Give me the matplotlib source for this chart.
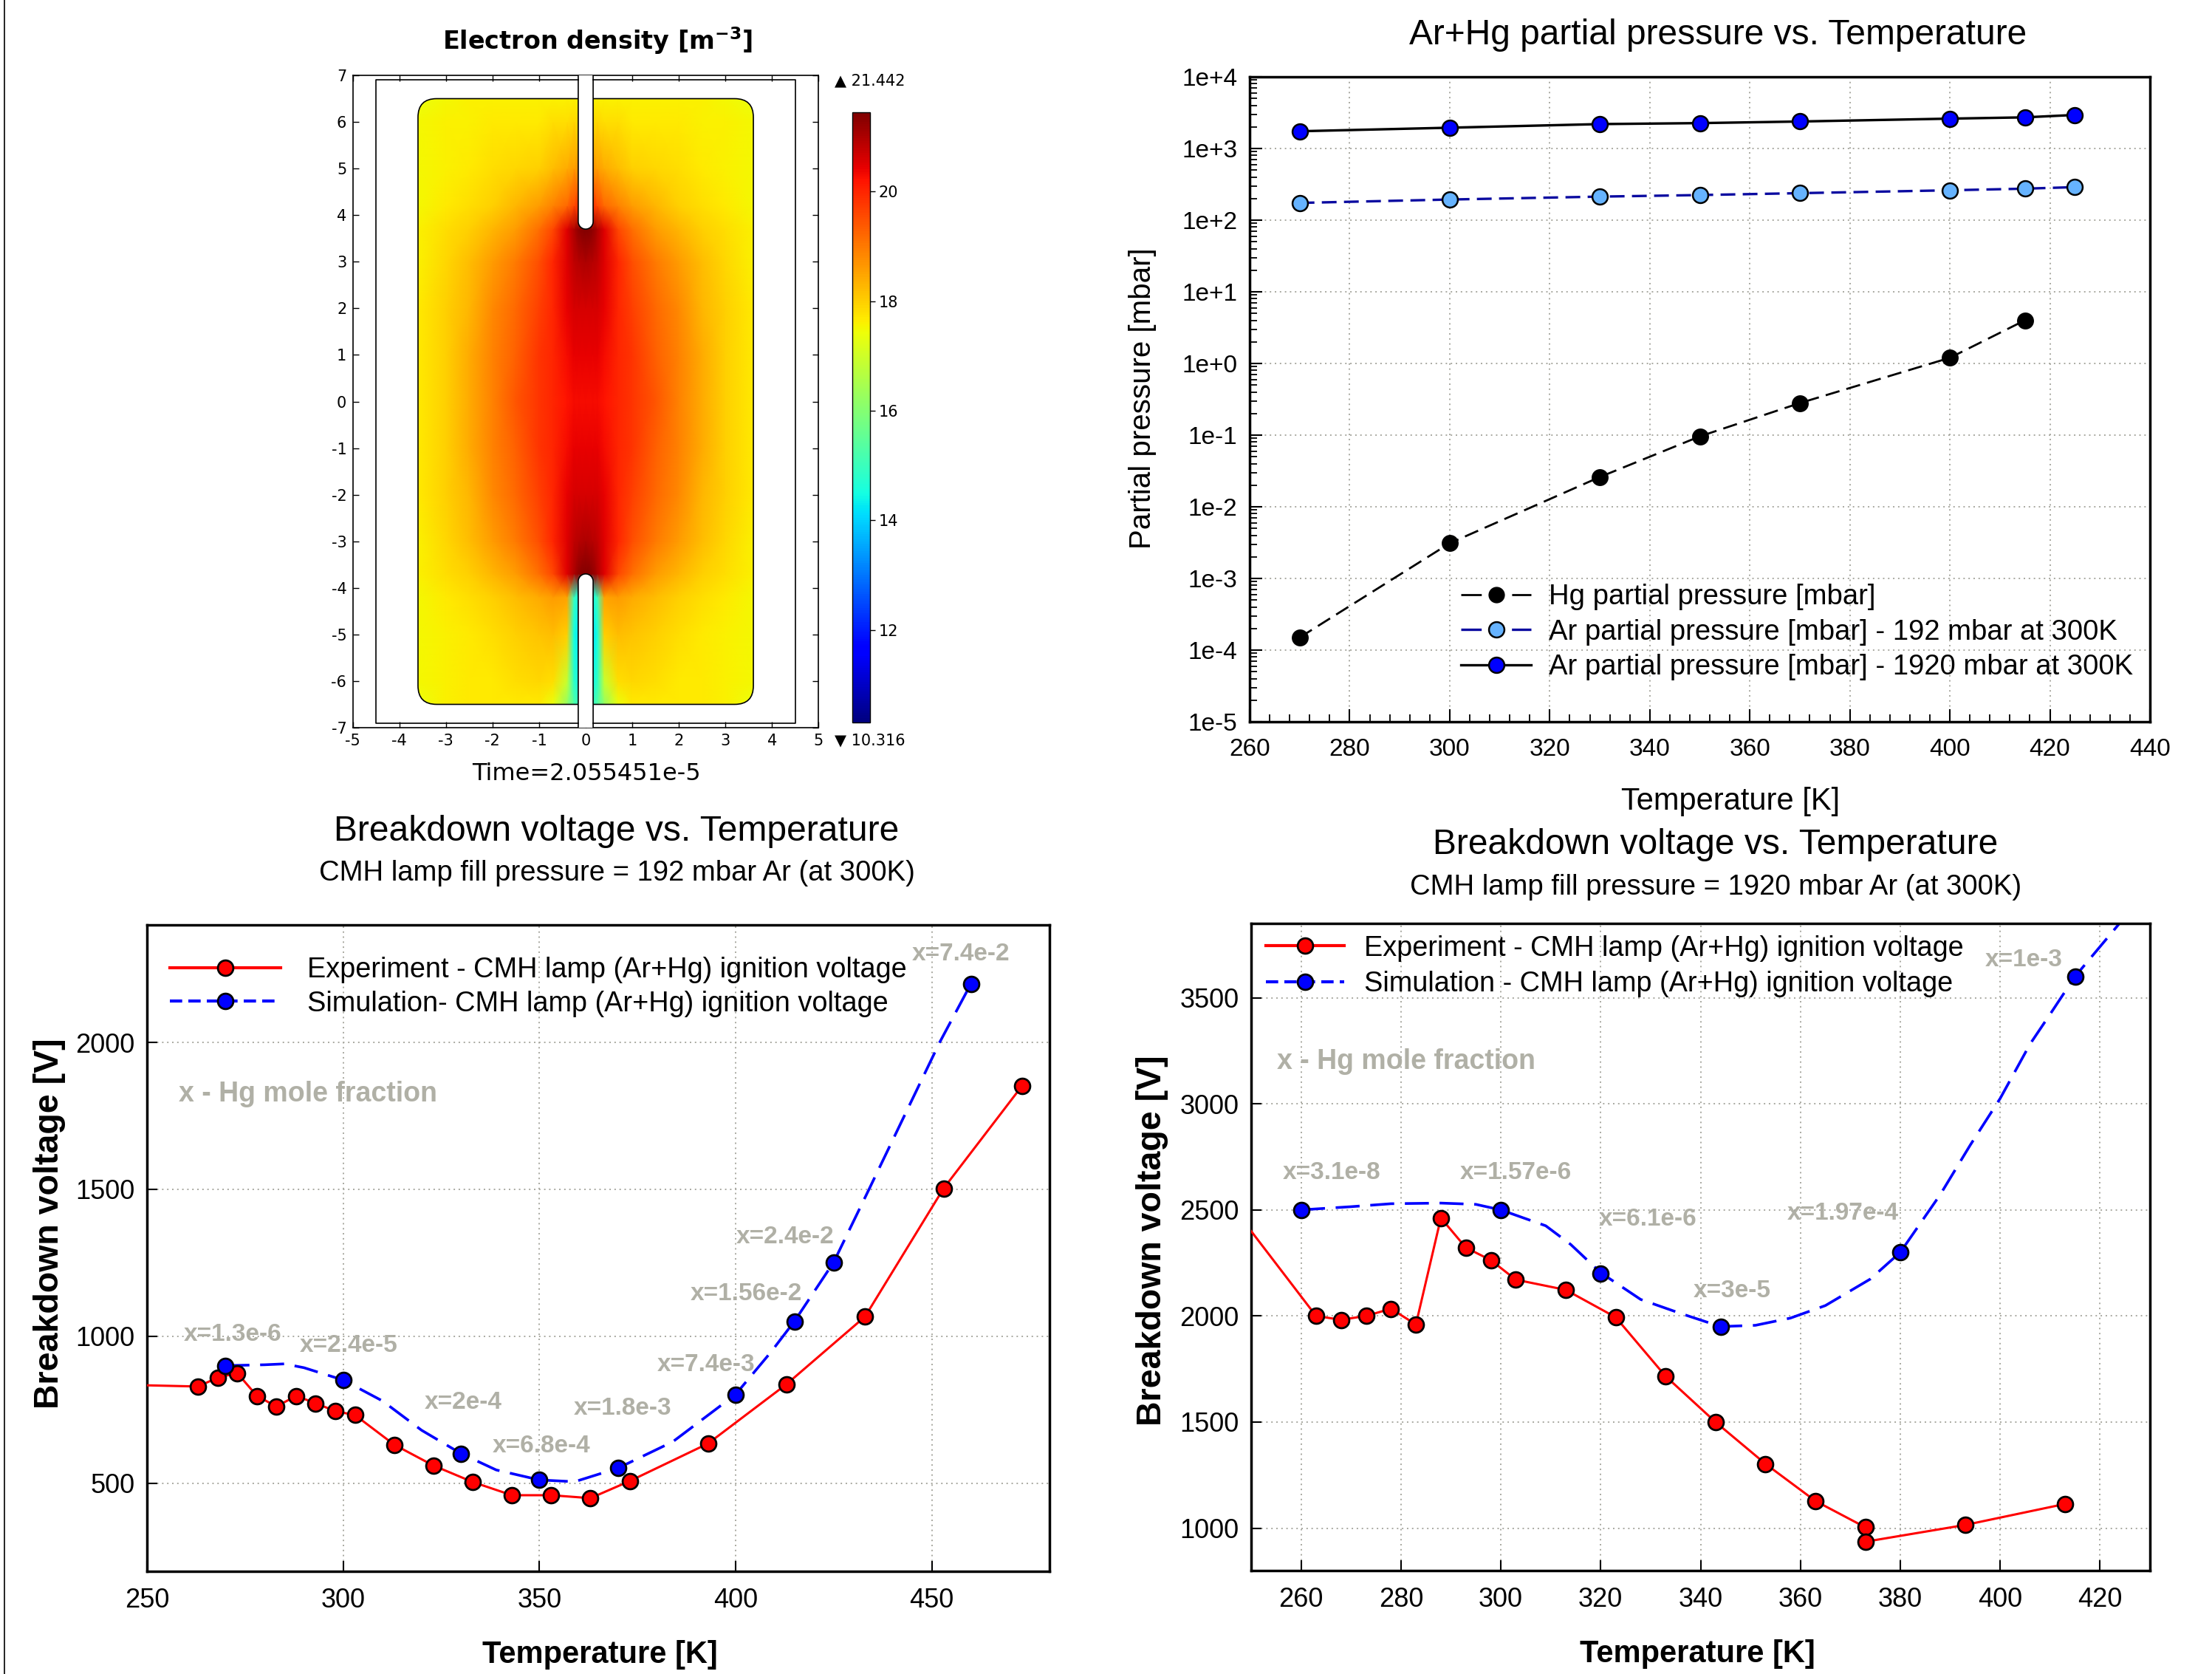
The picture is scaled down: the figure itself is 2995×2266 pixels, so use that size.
import numpy as np
import matplotlib
matplotlib.use("Agg")
import matplotlib.pyplot as plt
from matplotlib.patches import FancyBboxPatch, Polygon
from matplotlib.lines import Line2D
from matplotlib.ticker import MultipleLocator, FixedLocator, FuncFormatter, LogLocator, NullFormatter

plt.rcParams['font.family'] = ['Liberation Sans', 'DejaVu Sans']
plt.rcParams['axes.unicode_minus'] = False

######################## data ########################

# electron density (log10 m^-3), right half of the lamp, mirrored for the left half
dens_x = [0.0, 0.15, 0.25, 0.4, 0.7, 1.0, 1.5, 2.0, 2.5, 3.0, 3.6]
dens_y = [-6.5, -6.0, -5.0, -4.2, -3.7, -3.0, -2.0, -1.0, 0.0, 1.0, 2.0, 3.0, 3.7, 4.2, 5.0, 6.0, 6.5]
dens_val = [
    [15.0, 15.0, 15.3, 16.2, 17.4, 17.7, 17.7, 17.7, 17.7, 17.6, 17.4],
    [14.5, 14.5, 14.8, 16.9, 17.8, 17.9, 17.8, 17.7, 17.7, 17.6, 17.5],
    [14.2, 14.2, 14.5, 18.0, 18.2, 18.1, 18.0, 17.8, 17.7, 17.6, 17.5],
    [14.5, 14.5, 15.0, 18.5, 18.6, 18.4, 18.2, 18.0, 17.8, 17.7, 17.5],
    [21.4, 21.3, 21.0, 20.5, 19.6, 19.1, 18.6, 18.3, 18.0, 17.8, 17.6],
    [21.0, 20.9, 20.8, 20.5, 20.0, 19.5, 19.0, 18.6, 18.2, 17.9, 17.6],
    [20.6, 20.6, 20.6, 20.4, 20.0, 19.7, 19.2, 18.8, 18.3, 18.0, 17.7],
    [20.4, 20.4, 20.4, 20.3, 20.0, 19.8, 19.3, 18.9, 18.4, 18.0, 17.7],
    [20.3, 20.3, 20.3, 20.2, 20.0, 19.8, 19.4, 18.9, 18.4, 18.0, 17.7],
    [20.4, 20.4, 20.4, 20.3, 20.0, 19.8, 19.3, 18.9, 18.4, 18.0, 17.7],
    [20.6, 20.6, 20.6, 20.4, 20.0, 19.7, 19.2, 18.8, 18.3, 18.0, 17.7],
    [21.0, 20.9, 20.8, 20.5, 20.0, 19.5, 19.0, 18.6, 18.2, 17.9, 17.6],
    [21.4, 21.3, 21.0, 20.5, 19.6, 19.1, 18.6, 18.3, 18.0, 17.8, 17.6],
    [19.8, 19.8, 19.6, 19.2, 18.9, 18.6, 18.3, 18.0, 17.8, 17.7, 17.5],
    [18.7, 18.7, 18.6, 18.4, 18.2, 18.0, 17.9, 17.8, 17.7, 17.6, 17.5],
    [17.9, 17.9, 17.9, 17.8, 17.8, 17.7, 17.7, 17.7, 17.6, 17.6, 17.5],
    [17.6, 17.6, 17.6, 17.6, 17.6, 17.6, 17.6, 17.6, 17.6, 17.5, 17.4],
]
dens_min, dens_max = 10.316, 21.442

# partial pressures [mbar]
pp_T = [270, 300, 330, 350, 370, 400, 415, 425]
ar1920 = [1740, 1950, 2190, 2260, 2380, 2610, 2720, 2940]
ar192 = [174, 194, 213, 224, 238, 261, 275, 289]
hg_T = [270, 300, 330, 350, 370, 400, 415]
hg_p = [1.5e-4, 3.1e-3, 2.6e-2, 9.6e-2, 0.28, 1.2, 4.0]

# breakdown voltage, 192 mbar Ar (first point = where the curve enters the frame)
exp1_T = [250, 263, 268, 273, 278, 283, 288, 293, 298, 303, 313, 323, 333, 343, 353, 363, 373, 393, 413, 433, 453, 473]
exp1_V = [833, 829, 859, 875, 797, 761, 797, 772, 745, 732, 631, 560, 504, 459, 459, 449, 507, 635, 837, 1067, 1503, 1852]
sim1_T = [270, 300, 330, 350, 370, 400, 415, 425, 460]
sim1_V = [900, 851, 601, 511, 551, 802, 1051, 1252, 2200]
sim1_curve_T = [270, 280, 285, 290, 300, 310, 320, 330, 339, 350, 359, 370, 384, 400, 409, 415, 425, 434, 452, 460]
sim1_curve_V = [900, 903, 906, 893, 851, 780, 680, 601, 545, 511, 505, 551, 641, 802, 946, 1051, 1252, 1500, 2000, 2200]
ann1_text = ["x=1.3e-6", "x=2.4e-5", "x=2e-4", "x=6.8e-4", "x=1.8e-3", "x=7.4e-3", "x=1.56e-2", "x=2.4e-2", "x=7.4e-2"]
ann1_T = [259.4, 289, 320.8, 338, 358.7, 380, 388.5, 400.2, 445]
ann1_V = [1005, 968, 775, 625, 754, 904, 1144, 1337, 2300]

# breakdown voltage, 1920 mbar Ar
exp2_T = [250, 263, 268, 273, 278, 283, 288, 293, 298, 303, 313, 323, 333, 343, 353, 363, 373, 373, 393, 413]
exp2_V = [2400, 2000, 1982, 2000, 2034, 1960, 2462, 2322, 2263, 2171, 2123, 1994, 1716, 1500, 1303, 1128, 1004, 936, 1015, 1114]
sim2_T = [260, 300, 320, 344, 380, 415]
sim2_V = [2500, 2500, 2200, 1950, 2300, 3600]
sim2_curve_T = [260, 270, 278, 288, 295, 300, 309, 314, 320, 328, 336, 344, 351, 358, 365, 374, 380, 388, 394, 400, 406, 410, 415, 424]
sim2_curve_V = [2500, 2515, 2529, 2532, 2526, 2500, 2425, 2337, 2204, 2078, 2012, 1950, 1956, 1990, 2049, 2174, 2300, 2572, 2805, 3025, 3282, 3422, 3600, 3853]
ann2_text = ["x=3.1e-8", "x=1.57e-6", "x=6.1e-6", "x=3e-5", "x=1.97e-4", "x=1e-3"]
ann2_T = [256.3, 291.8, 319.7, 338.6, 357.3, 397]
ann2_V = [2676, 2676, 2455, 2118, 2484, 3678]

######################## figure ########################
W, H = 2995, 2266
fig = plt.figure(figsize=(W / 100, H / 100), dpi=100)

def fx(px):
    return px / W

def fy(py):
    return 1 - py / H

def box(l, t, r, b):
    return [fx(l), fy(b), (r - l) / W, (b - t) / H]

GRAY_TXT = '#b0b0a6'
GRID = dict(color='#a8a8a0', linestyle=(0, (1, 2.5)), linewidth=1.4)

# left border line of the page
fig.add_artist(Line2D([fx(6), fx(6)], [0, 1], color='black', lw=1.2))

#################### electron density map ####################
ax0 = fig.add_axes(box(477, 102, 1109, 985))
dv = np.array(dens_val)
xs = np.array(dens_x)
full_x = np.concatenate([-xs[:0:-1], xs])
full_v = np.hstack([dv[:, :0:-1], dv])
X, Y = np.meshgrid(full_x, np.array(dens_y))
mesh = ax0.pcolormesh(X, Y, full_v, shading='gouraud', cmap='jet', vmin=dens_min, vmax=dens_max, zorder=1)
plasma = FancyBboxPatch((-3.6, -6.5), 7.2, 13.0, boxstyle="round,pad=0,rounding_size=0.4",
                        facecolor='none', edgecolor='black', lw=1.2, zorder=3)
ax0.add_patch(plasma)
mesh.set_clip_path(plasma)

# electrodes (white slots with rounded tips)
th = np.linspace(np.pi, 2 * np.pi, 30)
r = 0.16
top_slot = np.vstack([[[-r, 7.3], [-r, 3.86]],
                      np.column_stack([r * np.cos(th), 3.86 + r * np.sin(th)]),
                      [[r, 3.86], [r, 7.3]]])
bot_slot = top_slot * np.array([1, -1])
for pts in (top_slot, bot_slot):
    ax0.add_patch(Polygon(pts, closed=False, facecolor='white', edgecolor='black', lw=1.2, zorder=4))

# outer boxes
for s in (-1, 1):
    ax0.plot([s * r, s * 4.5, s * 4.5, s * r], [6.9, 6.9, -6.9, -6.9], color='black', lw=1.2, zorder=4)

ax0.set_xlim(-5, 5)
ax0.set_ylim(-7, 7)
ax0.set_aspect('equal')
ax0.xaxis.set_major_locator(MultipleLocator(1))
ax0.yaxis.set_major_locator(MultipleLocator(1))
ax0.tick_params(direction='in', top=True, right=True, length=6, width=1, labelsize=15,
                pad=6, labelfontfamily='DejaVu Sans')
for sp in ax0.spines.values():
    sp.set_linewidth(1.2)

cax = fig.add_axes(box(1154, 152, 1178, 978))
cb = fig.colorbar(mesh, cax=cax)
cb.set_ticks([12, 14, 16, 18, 20])
cb.outline.set_linewidth(1)
cax.tick_params(labelsize=15, length=5, width=1, direction='out', labelfontfamily='DejaVu Sans')

fig.text(fx(1130), fy(109), "\u25B2 21.442", fontsize=15, family='DejaVu Sans', va='center', ha='left')
fig.text(fx(1130), fy(1002), "\u25BC 10.316", fontsize=15, family='DejaVu Sans', va='center', ha='left')
fig.text(fx(809), fy(55), "Electron density [m$^{\\mathregular{-3}}$]", fontsize=24, family='DejaVu Sans',
         fontweight='bold', ha='center', va='center')
fig.text(fx(794), fy(1047), "Time=2.055451e-5", fontsize=23, family='DejaVu Sans', ha='center', va='center')

#################### partial pressure ####################
ax1 = fig.add_axes(box(1692, 104, 2911, 977))
ax1.set_yscale('log')
ax1.plot(hg_T, hg_p, color='black', lw=2, dashes=(7, 3.5), marker='o', ms=15,
         mfc='black', mec='black', mew=1.5, zorder=3)
ax1.plot(pp_T, ar192, color='#0a0aa0', lw=2.4, dashes=(6, 3), marker='o', ms=15,
         mfc='#66b3ff', mec='black', mew=1.8, zorder=3)
ax1.plot(pp_T, ar1920, color='black', lw=2.4, marker='o', ms=15,
         mfc='#0000ff', mec='black', mew=1.8, zorder=3)
ax1.set_xlim(260, 440)
ax1.set_ylim(1e-5, 1e4)
ax1.xaxis.set_major_locator(MultipleLocator(20))
ax1.xaxis.set_minor_locator(MultipleLocator(4))
ax1.yaxis.set_major_locator(LogLocator(base=10, numticks=20))
ax1.yaxis.set_minor_locator(LogLocator(base=10, subs=np.arange(2, 10), numticks=20))
ax1.yaxis.set_minor_formatter(NullFormatter())
ax1.yaxis.set_major_formatter(FuncFormatter(lambda v, p: "1e%+d" % int(round(np.log10(v)))))
ax1.tick_params(which='major', direction='in', length=12, width=1.5, labelsize=24, pad=12)
ax1.tick_params(which='minor', direction='in', length=7, width=1.3)
ax1.tick_params(axis='x', which='major', pad=16)
ax1.grid(True, which='major', **GRID)
for sp in ax1.spines.values():
    sp.set_linewidth(2.5)

h_hg = Line2D([], [], color='black', lw=2, dashes=(10, 14.8), marker='o', ms=15, mfc='black', mec='black')
h_192 = Line2D([], [], color='#0a0aa0', lw=2.4, dashes=(8.3, 12.3), marker='o', ms=15, mfc='#66b3ff',
               mec='black', mew=1.8)
h_1920 = Line2D([], [], color='black', lw=2.4, marker='o', ms=15, mfc='#0000ff', mec='black', mew=1.8)
ax1.legend([h_hg, h_192, h_1920],
           ["Hg partial pressure [mbar]", "Ar partial pressure [mbar] - 192 mbar at 300K",
            "Ar partial pressure [mbar] - 1920 mbar at 300K"],
           loc='upper left', bbox_to_anchor=(0.2346, 0.214), frameon=False, fontsize=27.5,
           handlelength=2.5, handletextpad=0.62, labelspacing=0.30, borderpad=0, borderaxespad=0,
           numpoints=1)

fig.text(fx(2326), fy(48), "Ar+Hg partial pressure vs. Temperature", fontsize=34.5, ha='center', va='center')
fig.text(fx(1547), fy(539), "Partial pressure [mbar]", fontsize=29, rotation=90, ha='center', va='center')
fig.text(fx(2343), fy(1085), "Temperature [K]", fontsize=30, ha='center', va='center')

#################### breakdown voltage panels ####################
def breakdown_panel(rect, exp_T, exp_V, sim_T, sim_V, curve_T, curve_V, xlim, ylim, xstep,
                    yticks, ann_text, ann_T, ann_V, mole_pos, sim_label, leg_anchor, handlelen, textpad,
                    spacing):
    ax = fig.add_axes(rect)
    ax.plot(curve_T, curve_V, color='#0000ff', lw=2.6, dashes=(9, 4), zorder=2)
    ax.plot(sim_T, sim_V, linestyle='none', marker='o', ms=15, mfc='#0000ff', mec='black', mew=2, zorder=4)
    ax.plot(exp_T, exp_V, color='#ff0000', lw=2.2, marker='o', ms=15, mfc='#ff0000', mec='black',
            mew=2, markevery=list(range(1, len(exp_T))), zorder=3)
    for t, xx, yy in zip(ann_text, ann_T, ann_V):
        ax.text(xx, yy, t, fontsize=24, fontweight='bold', color=GRAY_TXT, ha='left', va='center', zorder=1)
    ax.text(mole_pos[0], mole_pos[1], "x - Hg mole fraction", fontsize=27, fontweight='bold',
            color=GRAY_TXT, ha='left', va='center')
    ax.set_xlim(*xlim)
    ax.set_ylim(*ylim)
    ax.xaxis.set_major_locator(MultipleLocator(xstep))
    ax.yaxis.set_major_locator(FixedLocator(yticks))
    ax.tick_params(direction='in', length=10, width=1.5, labelsize=26, pad=12)
    ax.tick_params(axis='x', pad=16)
    ax.grid(True, **GRID)
    for sp in ax.spines.values():
        sp.set_linewidth(2.5)
    h_exp = Line2D([], [], color='#ff0000', lw=3, marker='o', ms=15, mfc='#ff0000', mec='black', mew=2)
    h_sim = Line2D([], [], color='#0000ff', lw=3, dashes=(4, 2), marker='o', ms=15, mfc='#0000ff', mec='black', mew=2)
    ax.legend([h_exp, h_sim], ["Experiment - CMH lamp (Ar+Hg) ignition voltage", sim_label],
              loc='upper left', bbox_to_anchor=leg_anchor, frameon=False, fontsize=27.3,
              handlelength=handlelen, handletextpad=textpad, labelspacing=spacing, borderpad=0,
              borderaxespad=0, numpoints=1)
    return ax

breakdown_panel(box(199, 1252, 1421, 2127), exp1_T, exp1_V, sim1_T, sim1_V, sim1_curve_T, sim1_curve_V,
                (250, 480), (200, 2400), 50, [500, 1000, 1500, 2000],
                ann1_text, ann1_T, ann1_V, (258, 1823),
                "Simulation- CMH lamp (Ar+Hg) ignition voltage", (0.0254, 0.951), 3.95, 0.96, 0.26)
breakdown_panel(box(1694, 1250, 2911, 2126), exp2_T, exp2_V, sim2_T, sim2_V, sim2_curve_T, sim2_curve_V,
                (250, 430), (800, 3850), 20, [1000, 1500, 2000, 2500, 3000, 3500],
                ann2_text, ann2_T, ann2_V, (255.2, 3198),
                "Simulation - CMH lamp (Ar+Hg) ignition voltage", (0.0164, 0.982), 2.8, 0.7, 0.33)

fig.text(fx(835), fy(1125), "Breakdown voltage vs. Temperature", fontsize=34.6, ha='center', va='center')
fig.text(fx(835), fy(1182), "CMH lamp fill pressure = 192 mbar Ar (at 300K)", fontsize=27.5, ha='center', va='center')
fig.text(fx(67), fy(1656), "Breakdown voltage [V]", fontsize=33.5, fontweight='bold', rotation=90, ha='center', va='center')
fig.text(fx(812), fy(2240), "Temperature [K]", fontsize=30, fontweight='bold', ha='center', va='center')

fig.text(fx(2323), fy(1144), "Breakdown voltage vs. Temperature", fontsize=34.6, ha='center', va='center')
fig.text(fx(2323), fy(1201), "CMH lamp fill pressure = 1920 mbar Ar (at 300K)", fontsize=27.5, ha='center', va='center')
fig.text(fx(1560), fy(1679), "Breakdown voltage [V]", fontsize=33.5, fontweight='bold', rotation=90, ha='center', va='center')
fig.text(fx(2298), fy(2239), "Temperature [K]", fontsize=30, fontweight='bold', ha='center', va='center')

fig.savefig("out.png", dpi=100)
